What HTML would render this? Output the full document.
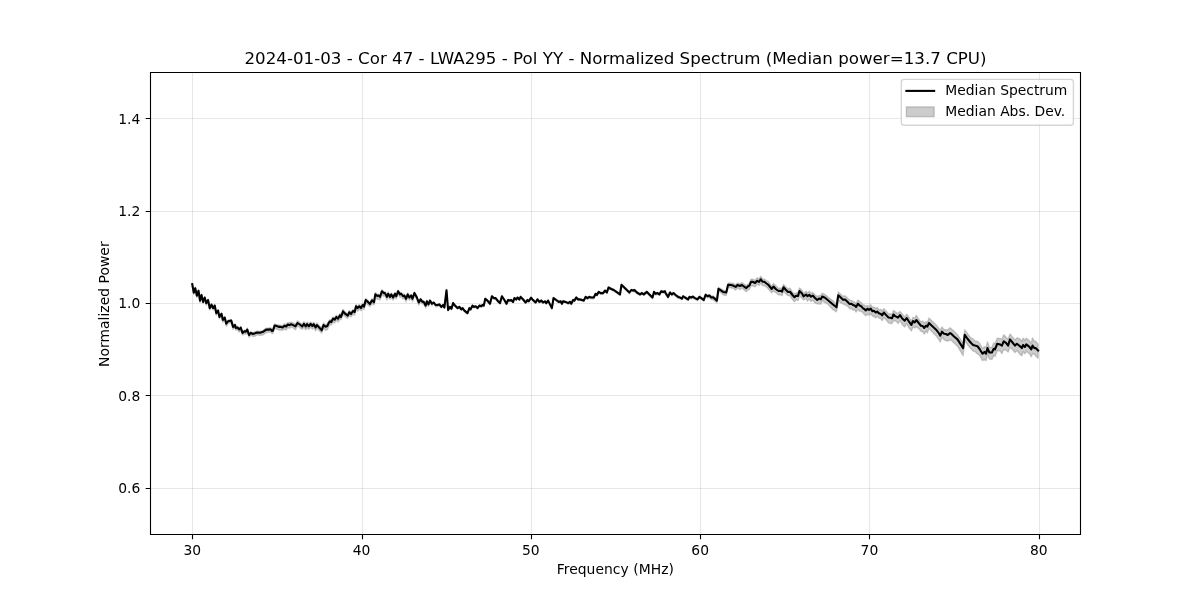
<!DOCTYPE html>
<html><head><meta charset="utf-8"><title>Normalized Spectrum</title>
<style>html,body{margin:0;padding:0;background:#fff;width:1200px;height:600px;overflow:hidden}svg{display:block;will-change:transform}</style>
</head><body>
<svg width="1200" height="600" viewBox="0 0 1200 600">
<rect width="1200" height="600" fill="#fff"/>
<defs><clipPath id="ax"><rect x="150" y="72" width="930" height="462"/></clipPath></defs>
<path clip-path="url(#ax)" d="M192.25 283.32 L193.75 291.67 L195.25 287.09 L196.90 294.65 L198.50 289.79 L200.00 299.68 L201.50 294.06 L203.10 301.00 L204.75 296.46 L206.25 302.25 L208.10 299.05 L209.75 307.10 L211.50 303.62 L213.10 306.96 L214.75 304.40 L216.25 311.82 L218.10 309.54 L219.40 315.70 L221.50 312.53 L222.90 318.91 L224.75 316.50 L226.25 322.40 L228.10 320.13 L231.25 319.46 L233.10 325.54 L235.00 323.74 L235.80 326.67 L237.50 326.15 L239.20 328.32 L240.80 326.35 L242.50 331.67 L244.60 330.11 L245.80 330.33 L247.30 328.11 L249.00 333.79 L250.80 331.51 L252.90 332.73 L255.00 331.83 L257.10 331.03 L260.00 331.42 L263.30 330.14 L266.25 328.09 L269.20 328.06 L270.40 327.59 L272.10 329.55 L272.90 329.20 L274.60 323.93 L276.70 324.61 L279.20 325.03 L280.00 325.12 L282.60 325.56 L284.40 323.97 L286.10 324.36 L287.90 322.53 L289.30 322.69 L291.10 322.15 L293.10 322.87 L295.50 324.19 L297.50 320.76 L299.80 322.54 L302.20 324.57 L303.90 321.61 L305.70 324.02 L307.10 322.04 L308.90 323.93 L310.60 321.99 L312.40 323.69 L313.80 322.33 L315.60 325.04 L317.00 322.96 L319.10 325.28 L321.70 327.97 L323.50 322.89 L325.50 324.60 L327.30 324.26 L328.70 321.07 L330.00 319.55 L331.30 320.19 L333.00 316.89 L334.70 317.53 L336.30 315.27 L338.00 316.88 L340.00 313.38 L341.00 314.89 L343.00 309.14 L345.00 311.70 L347.70 314.00 L349.30 310.43 L351.00 312.05 L353.00 309.43 L354.70 310.10 L356.00 304.58 L357.70 306.17 L359.30 304.44 L361.00 306.16 L362.70 303.25 L364.00 304.94 L365.70 298.44 L367.70 300.00 L370.00 302.51 L372.00 298.65 L374.00 300.63 L375.30 292.53 L377.30 294.43 L378.75 294.22 L380.00 295.29 L381.90 289.81 L383.75 291.42 L385.00 291.60 L386.90 295.42 L388.10 292.04 L390.00 295.45 L391.25 292.98 L393.10 296.10 L395.00 292.31 L396.25 294.99 L398.10 289.81 L400.00 292.82 L401.25 292.34 L403.10 294.78 L404.40 294.06 L406.00 297.27 L407.75 292.98 L409.40 296.07 L411.25 294.19 L412.50 297.57 L414.40 291.85 L416.90 296.33 L418.75 301.37 L420.60 298.19 L422.50 300.81 L423.75 300.73 L425.60 304.49 L426.90 300.31 L428.50 303.39 L430.00 299.63 L431.90 302.73 L433.75 301.69 L435.60 304.20 L437.50 304.15 L439.40 303.61 L441.25 306.09 L443.10 304.30 L444.40 306.85 L446.50 289.41 L448.10 309.35 L450.00 306.27 L451.50 308.09 L453.10 302.43 L455.00 304.95 L457.50 307.39 L459.40 306.10 L461.25 308.77 L462.50 307.41 L464.40 309.86 L467.50 312.31 L469.40 307.28 L470.60 308.77 L472.50 304.88 L473.75 306.11 L475.60 305.63 L477.50 307.37 L479.40 304.96 L481.25 305.48 L482.50 304.19 L483.75 304.88 L485.25 298.14 L487.50 299.98 L490.00 303.05 L491.90 295.46 L493.75 297.44 L495.60 297.34 L498.10 300.55 L500.00 302.43 L501.90 295.48 L504.40 299.32 L506.50 303.05 L508.10 299.22 L510.00 299.88 L511.25 299.21 L513.10 301.17 L514.40 297.45 L516.25 298.68 L517.50 296.69 L519.40 298.66 L520.60 296.07 L522.50 298.13 L525.60 301.80 L527.50 299.21 L528.75 300.48 L531.00 297.00 L532.50 298.63 L535.60 301.68 L537.50 298.62 L539.40 301.15 L541.25 299.85 L543.10 301.72 L545.00 300.55 L546.25 302.32 L548.10 299.83 L551.90 307.29 L553.50 297.36 L556.25 299.36 L558.75 301.15 L560.60 300.42 L561.90 302.97 L563.10 300.47 L565.60 301.18 L568.10 302.38 L570.00 301.10 L571.25 303.10 L573.10 299.17 L574.40 299.76 L576.25 296.64 L578.10 298.73 L580.00 298.73 L581.90 299.16 L583.75 299.87 L585.60 296.20 L587.50 297.37 L589.40 296.11 L591.25 296.82 L593.75 296.74 L595.60 292.95 L596.90 294.19 L598.75 291.25 L600.60 292.27 L603.10 292.35 L605.00 289.85 L606.90 291.72 L608.50 286.79 L611.25 288.15 L613.75 289.30 L620.00 293.62 L621.50 284.06 L623.75 286.10 L629.40 291.63 L631.25 289.14 L633.10 289.91 L634.40 289.20 L636.90 291.63 L640.00 293.69 L641.90 292.34 L643.75 293.57 L646.90 291.07 L649.40 293.63 L652.50 296.69 L654.00 291.08 L655.60 293.00 L657.50 292.28 L659.40 293.60 L661.25 290.42 L663.10 291.11 L665.00 290.50 L665.60 292.33 L668.10 296.01 L670.00 291.79 L671.90 293.69 L673.50 292.43 L675.60 294.13 L678.10 295.99 L680.00 296.77 L681.90 298.01 L683.10 295.53 L685.00 296.68 L688.10 298.61 L689.40 296.03 L691.25 296.77 L692.75 295.71 L695.00 297.31 L697.50 298.53 L699.40 296.03 L701.25 297.15 L703.75 299.05 L705.60 293.69 L707.50 295.13 L709.40 294.53 L711.25 296.25 L713.10 295.76 L716.90 298.94 L718.50 287.43 L721.25 288.88 L723.10 290.29 L726.25 290.91 L728.10 283.11 L730.60 282.91 L733.10 283.33 L735.60 284.82 L737.50 282.95 L740.00 283.79 L741.90 282.52 L746.25 285.54 L748.10 284.13 L749.40 283.33 L751.00 279.09 L753.10 279.31 L755.00 280.22 L757.25 277.81 L759.00 279.12 L760.75 276.25 L762.50 278.89 L764.25 279.14 L766.50 280.90 L768.25 281.44 L771.75 286.51 L773.50 283.40 L776.00 285.95 L778.50 288.26 L781.25 288.15 L782.00 288.82 L783.50 284.37 L785.50 286.48 L788.00 288.99 L790.00 288.24 L792.50 292.23 L794.50 293.69 L796.00 293.02 L798.00 292.40 L799.50 287.97 L802.00 290.06 L803.50 293.55 L806.00 291.29 L807.50 292.80 L809.25 291.33 L811.00 293.14 L812.75 292.52 L815.00 294.75 L817.25 296.51 L819.00 295.59 L820.75 295.50 L822.25 293.17 L825.00 294.57 L828.00 297.08 L833.00 300.84 L836.50 304.20 L838.25 291.98 L841.00 294.40 L843.00 296.44 L845.00 295.66 L847.50 298.04 L849.20 299.54 L850.00 300.16 L851.50 300.34 L852.90 301.45 L854.70 302.25 L856.10 303.61 L857.90 299.95 L859.60 301.55 L861.10 302.62 L863.10 304.85 L864.30 304.93 L865.75 306.24 L867.50 305.41 L869.00 306.62 L870.70 304.63 L872.50 307.51 L873.90 307.03 L875.70 308.53 L877.10 307.47 L879.20 310.05 L880.60 309.31 L882.10 311.00 L883.80 308.72 L886.20 311.24 L888.50 313.85 L890.30 313.72 L892.00 314.71 L893.50 310.51 L894.90 311.56 L896.70 312.92 L898.00 313.32 L900.00 311.38 L902.00 313.80 L904.70 317.08 L906.70 314.23 L909.00 317.26 L911.30 321.05 L913.00 317.25 L914.70 318.56 L916.30 315.33 L918.70 319.29 L921.00 321.90 L922.70 321.00 L924.30 323.19 L926.00 321.41 L927.30 322.62 L929.00 317.98 L931.30 320.34 L934.00 322.85 L936.70 325.60 L938.70 328.27 L940.30 330.30 L942.00 326.91 L944.00 329.51 L946.00 329.79 L947.70 330.00 L950.00 327.86 L951.25 328.64 L953.75 330.92 L957.50 334.68 L963.10 343.16 L964.75 329.95 L967.50 333.73 L970.60 337.60 L973.10 339.15 L975.00 340.82 L977.50 341.33 L979.40 342.97 L982.50 348.43 L984.40 346.64 L986.00 347.41 L987.50 341.87 L989.40 347.36 L991.90 347.43 L993.75 343.08 L995.00 343.56 L997.25 338.26 L1000.00 338.44 L1001.90 339.39 L1003.75 334.70 L1006.25 337.46 L1008.10 339.12 L1010.00 333.94 L1012.50 336.91 L1015.00 339.92 L1016.90 337.87 L1020.00 338.88 L1021.90 341.55 L1023.10 338.18 L1025.00 340.15 L1026.25 338.14 L1029.40 340.95 L1031.25 343.15 L1032.50 337.93 L1034.40 341.49 L1035.60 341.31 L1038.10 344.11 L1038.10 358.35 L1035.60 355.88 L1034.40 354.19 L1032.50 353.63 L1031.25 356.85 L1029.40 353.75 L1026.25 351.37 L1025.00 353.77 L1023.10 351.74 L1021.90 355.69 L1020.00 354.38 L1016.90 350.42 L1015.00 352.54 L1012.50 349.40 L1010.00 347.48 L1008.10 351.92 L1006.25 350.44 L1003.75 349.46 L1001.90 353.61 L1000.00 350.70 L997.25 350.72 L995.00 356.45 L993.75 355.43 L991.90 359.40 L989.40 359.08 L987.50 354.56 L986.00 360.66 L984.40 359.63 L982.50 360.60 L979.40 354.88 L977.50 354.06 L975.00 351.40 L973.10 351.15 L970.60 348.37 L967.50 344.64 L964.75 340.37 L963.10 355.62 L957.50 346.22 L953.75 342.80 L951.25 340.20 L950.00 340.07 L947.70 341.15 L946.00 340.73 L944.00 339.63 L942.00 337.03 L940.30 342.08 L938.70 339.29 L936.70 336.55 L934.00 333.67 L931.30 331.11 L929.00 328.16 L927.30 332.94 L926.00 330.86 L924.30 334.16 L922.70 331.84 L921.00 331.42 L918.70 328.55 L916.30 326.63 L914.70 328.06 L913.00 326.75 L911.30 330.94 L909.00 327.89 L906.70 323.63 L904.70 327.01 L902.00 324.25 L900.00 320.60 L898.00 323.52 L896.70 321.63 L894.90 320.79 L893.50 320.46 L892.00 323.44 L890.30 323.39 L888.50 322.90 L886.20 319.88 L883.80 317.61 L882.10 320.67 L880.60 318.43 L879.20 318.32 L877.10 316.14 L875.70 317.91 L873.90 316.27 L872.50 316.14 L870.70 313.74 L869.00 315.14 L867.50 314.44 L865.75 315.80 L864.30 314.17 L863.10 313.12 L861.10 310.96 L859.60 311.19 L857.90 309.11 L856.10 312.13 L854.70 309.98 L852.90 310.03 L851.50 308.28 L850.00 308.81 L849.20 307.96 L847.50 306.02 L845.00 304.86 L843.00 303.86 L841.00 302.93 L838.25 300.32 L836.50 311.84 L833.00 309.67 L828.00 304.17 L825.00 302.60 L822.25 300.67 L820.75 304.27 L819.00 303.57 L817.25 303.90 L815.00 302.94 L812.75 300.09 L811.00 301.51 L809.25 298.84 L807.50 301.20 L806.00 298.40 L803.50 300.03 L802.00 298.17 L799.50 295.64 L798.00 300.46 L796.00 299.73 L794.50 301.79 L792.50 299.65 L790.00 295.68 L788.00 295.63 L785.50 293.39 L783.50 291.28 L782.00 295.68 L781.25 295.12 L778.50 294.85 L776.00 292.72 L773.50 290.99 L771.75 292.80 L768.25 288.82 L766.50 286.93 L764.25 285.78 L762.50 285.40 L760.75 283.33 L759.00 285.57 L757.25 283.91 L755.00 286.74 L753.10 285.96 L751.00 285.67 L749.40 289.54 L748.10 289.83 L746.25 291.63 L741.90 288.03 L740.00 289.56 L737.50 287.93 L735.60 290.07 L733.10 288.28 L730.60 287.72 L728.10 287.28 L726.25 295.47 L723.10 294.72 L721.25 292.95 L718.50 291.07 L716.90 302.80 L713.10 299.43 L711.25 299.58 L709.40 297.41 L707.50 297.83 L705.60 296.41 L703.75 301.29 L701.25 299.22 L699.40 298.10 L697.50 300.63 L695.00 299.35 L692.75 297.86 L691.25 298.83 L689.40 298.10 L688.10 300.63 L685.00 298.69 L683.10 297.27 L681.90 299.81 L680.00 298.54 L678.10 298.23 L675.60 296.13 L673.50 294.13 L671.90 295.59 L670.00 293.67 L668.10 298.24 L665.60 294.33 L665.00 292.58 L663.10 293.19 L661.25 292.29 L659.40 295.50 L657.50 294.43 L655.60 295.08 L654.00 293.03 L652.50 298.79 L649.40 295.68 L646.90 293.06 L643.75 295.41 L641.90 294.19 L640.00 295.49 L636.90 293.65 L634.40 291.15 L633.10 291.66 L631.25 291.04 L629.40 293.80 L623.75 288.04 L621.50 285.97 L620.00 295.52 L613.75 291.28 L611.25 289.97 L608.50 288.76 L606.90 293.55 L605.00 291.62 L603.10 294.12 L600.60 294.20 L598.75 292.90 L596.90 295.97 L595.60 294.81 L593.75 298.74 L591.25 298.78 L589.40 297.91 L587.50 299.35 L585.60 298.12 L583.75 301.59 L581.90 300.98 L580.00 300.45 L578.10 300.61 L576.25 298.44 L574.40 301.73 L573.10 300.98 L571.25 304.85 L570.00 303.15 L568.10 304.25 L565.60 302.95 L563.10 302.18 L561.90 304.72 L560.60 302.46 L558.75 302.93 L556.25 301.15 L553.50 299.27 L551.90 309.07 L548.10 301.61 L546.25 304.04 L545.00 302.35 L543.10 303.57 L541.25 301.71 L539.40 302.90 L537.50 300.38 L535.60 303.41 L532.50 300.56 L531.00 298.89 L528.75 302.25 L527.50 301.12 L525.60 303.53 L522.50 299.68 L520.60 297.90 L519.40 300.46 L517.50 298.44 L516.25 300.47 L514.40 299.13 L513.10 302.93 L511.25 300.89 L510.00 301.55 L508.10 301.04 L506.50 304.69 L504.40 301.04 L501.90 297.15 L500.00 304.17 L498.10 302.19 L495.60 299.13 L493.75 299.09 L491.90 297.40 L490.00 304.88 L487.50 301.74 L485.25 299.77 L483.75 306.73 L482.50 306.08 L481.25 307.25 L479.40 306.51 L477.50 309.03 L475.60 307.25 L473.75 307.99 L472.50 306.77 L470.60 310.37 L469.40 308.97 L467.50 313.98 L464.40 311.59 L462.50 309.01 L461.25 310.35 L459.40 307.84 L457.50 308.98 L455.00 306.61 L453.10 304.02 L451.50 309.80 L450.00 307.91 L448.10 311.07 L446.50 291.34 L444.40 308.43 L443.10 306.20 L441.25 307.99 L439.40 305.81 L437.50 306.44 L435.60 306.74 L433.75 303.95 L431.90 305.59 L430.00 302.62 L428.50 306.59 L426.90 303.57 L425.60 307.96 L423.75 303.91 L422.50 304.05 L420.60 301.72 L418.75 305.13 L416.90 299.99 L414.40 295.44 L412.50 301.46 L411.25 298.15 L409.40 300.14 L407.75 297.12 L406.00 301.68 L404.40 298.58 L403.10 298.94 L401.25 296.87 L400.00 297.27 L398.10 294.26 L396.25 299.07 L395.00 296.77 L393.10 300.17 L391.25 297.55 L390.00 299.35 L388.10 296.27 L386.90 299.94 L385.00 295.62 L383.75 296.26 L381.90 294.58 L380.00 300.29 L378.75 298.62 L377.30 299.43 L375.30 296.90 L374.00 304.94 L372.00 303.60 L370.00 306.59 L367.70 304.73 L365.70 302.72 L364.00 309.47 L362.70 308.53 L361.00 310.68 L359.30 309.16 L357.70 311.21 L356.00 309.10 L354.70 314.98 L353.00 314.39 L351.00 316.88 L349.30 315.45 L347.70 318.53 L345.00 316.51 L343.00 314.46 L341.00 319.82 L340.00 318.81 L338.00 322.14 L336.30 320.03 L334.70 322.89 L333.00 322.24 L331.30 325.10 L330.00 324.09 L328.70 326.66 L327.30 329.62 L325.50 330.22 L323.50 328.05 L321.70 333.07 L319.10 330.43 L317.00 327.93 L315.60 330.88 L313.80 327.60 L312.40 329.10 L310.60 326.99 L308.90 329.39 L307.10 327.82 L305.70 329.74 L303.90 327.26 L302.20 329.33 L299.80 327.80 L297.50 325.78 L295.50 329.71 L293.10 327.92 L291.10 327.08 L289.30 328.31 L287.90 327.52 L286.10 330.04 L284.40 329.02 L282.60 330.29 L280.00 329.96 L279.20 330.13 L276.70 329.17 L274.60 328.20 L272.90 333.58 L272.10 333.46 L270.40 332.08 L269.20 332.17 L266.25 332.49 L263.30 334.73 L260.00 335.41 L257.10 334.78 L255.00 336.26 L252.90 336.42 L250.80 335.10 L249.00 337.33 L247.30 332.04 L245.80 334.40 L244.60 333.61 L242.50 335.06 L240.80 330.26 L239.20 332.04 L237.50 329.97 L235.80 330.08 L235.00 327.11 L233.10 329.54 L231.25 322.79 L228.10 323.28 L226.25 326.26 L224.75 319.64 L222.90 322.31 L221.50 316.15 L219.40 318.78 L218.10 312.76 L216.25 315.29 L214.75 307.82 L213.10 310.02 L211.50 306.39 L209.75 310.05 L208.10 301.73 L206.25 305.29 L204.75 299.62 L203.10 303.75 L201.50 296.87 L200.00 302.43 L198.50 292.30 L196.90 297.32 L195.25 289.72 L193.75 294.24 L192.25 285.81 Z" fill="#808080" fill-opacity="0.4" stroke="#808080" stroke-opacity="0.4" stroke-width="1.389" stroke-linejoin="round"/>
<path d="M192.5 72V534" fill="none" stroke="#b0b0b0" stroke-opacity="0.3" stroke-width="1.111"/><path d="M362.5 72V534" fill="none" stroke="#b0b0b0" stroke-opacity="0.3" stroke-width="1.111"/><path d="M531.5 72V534" fill="none" stroke="#b0b0b0" stroke-opacity="0.3" stroke-width="1.111"/><path d="M700.5 72V534" fill="none" stroke="#b0b0b0" stroke-opacity="0.3" stroke-width="1.111"/><path d="M869.5 72V534" fill="none" stroke="#b0b0b0" stroke-opacity="0.3" stroke-width="1.111"/><path d="M1039.5 72V534" fill="none" stroke="#b0b0b0" stroke-opacity="0.3" stroke-width="1.111"/><path d="M150 488.5H1080" fill="none" stroke="#b0b0b0" stroke-opacity="0.3" stroke-width="1.111"/><path d="M150 395.5H1080" fill="none" stroke="#b0b0b0" stroke-opacity="0.3" stroke-width="1.111"/><path d="M150 303.5H1080" fill="none" stroke="#b0b0b0" stroke-opacity="0.3" stroke-width="1.111"/><path d="M150 211.5H1080" fill="none" stroke="#b0b0b0" stroke-opacity="0.3" stroke-width="1.111"/><path d="M150 118.5H1080" fill="none" stroke="#b0b0b0" stroke-opacity="0.3" stroke-width="1.111"/>
<path clip-path="url(#ax)" d="M192.25 284.20 L193.75 292.60 L195.25 288.20 L196.90 295.70 L198.50 290.70 L200.00 300.70 L201.50 295.10 L203.10 301.95 L204.75 297.60 L206.25 303.20 L208.10 300.10 L209.75 308.20 L211.50 304.70 L213.10 308.10 L214.75 305.60 L216.25 313.10 L218.10 310.60 L219.40 316.90 L221.50 313.75 L222.90 320.00 L224.75 317.50 L226.25 323.75 L228.10 321.25 L231.25 320.60 L233.10 326.90 L235.00 325.00 L235.80 327.90 L237.50 327.50 L239.20 329.40 L240.80 327.70 L242.50 332.90 L244.60 331.25 L245.80 331.70 L247.30 329.60 L249.00 335.00 L250.80 332.90 L252.90 334.00 L255.00 333.30 L257.10 332.50 L260.00 332.70 L263.30 331.70 L266.25 329.60 L269.20 329.60 L270.40 329.20 L272.10 331.00 L272.90 330.80 L274.60 325.60 L276.70 326.00 L279.20 326.90 L280.00 326.80 L282.60 327.40 L284.40 325.70 L286.10 326.50 L287.90 324.50 L289.30 325.10 L291.10 324.20 L293.10 325.10 L295.50 326.30 L297.50 323.00 L299.80 324.50 L302.20 326.50 L303.90 323.90 L305.70 326.30 L307.10 324.20 L308.90 326.30 L310.60 323.90 L312.40 326.00 L313.80 324.20 L315.60 327.40 L317.00 325.10 L319.10 327.40 L321.70 330.30 L323.50 325.10 L325.50 326.80 L327.30 326.00 L328.70 323.00 L330.00 321.30 L331.30 322.00 L333.00 318.70 L334.70 319.70 L336.30 317.00 L338.00 318.70 L340.00 315.30 L341.00 317.00 L343.00 311.30 L345.00 313.70 L347.70 315.70 L349.30 312.30 L351.00 314.00 L353.00 311.00 L354.70 312.00 L356.00 306.30 L357.70 308.00 L359.30 306.30 L361.00 308.00 L362.70 305.00 L364.00 306.70 L365.70 300.00 L367.70 301.70 L370.00 304.00 L372.00 300.30 L374.00 302.30 L375.30 294.30 L377.30 296.00 L378.75 295.60 L380.00 296.90 L381.90 291.25 L383.75 293.10 L385.00 293.10 L386.90 296.90 L388.10 293.75 L390.00 296.90 L391.25 294.40 L393.10 297.50 L395.00 293.75 L396.25 296.25 L398.10 291.25 L400.00 294.40 L401.25 293.75 L403.10 296.25 L404.40 295.60 L406.00 298.75 L407.75 294.40 L409.40 297.50 L411.25 295.60 L412.50 298.75 L414.40 293.10 L416.90 297.50 L418.75 302.50 L420.60 299.40 L422.50 301.90 L423.75 301.90 L425.60 305.60 L426.90 301.25 L428.50 304.40 L430.00 300.60 L431.90 303.75 L433.75 302.50 L435.60 305.00 L437.50 305.00 L439.40 304.40 L441.25 306.90 L443.10 305.00 L444.40 307.50 L446.50 290.20 L448.10 310.00 L450.00 306.90 L451.50 308.75 L453.10 303.10 L455.00 305.60 L457.50 308.10 L459.40 306.90 L461.25 309.40 L462.50 308.10 L464.40 310.60 L467.50 313.10 L469.40 308.10 L470.60 309.40 L472.50 305.60 L473.75 306.90 L475.60 306.25 L477.50 308.10 L479.40 305.60 L481.25 306.25 L482.50 305.00 L483.75 305.60 L485.25 298.75 L487.50 300.60 L490.00 303.75 L491.90 296.25 L493.75 298.10 L495.60 298.10 L498.10 301.25 L500.00 303.10 L501.90 296.25 L504.40 300.00 L506.50 303.75 L508.10 300.00 L510.00 300.60 L511.25 300.00 L513.10 301.90 L514.40 298.10 L516.25 299.40 L517.50 297.50 L519.40 299.40 L520.60 296.90 L522.50 298.75 L525.60 302.50 L527.50 300.00 L528.75 301.25 L531.00 297.75 L532.50 299.40 L535.60 302.50 L537.50 299.40 L539.40 301.90 L541.25 300.60 L543.10 302.50 L545.00 301.25 L546.25 303.10 L548.10 300.60 L551.90 308.10 L553.50 298.10 L556.25 300.00 L558.75 301.90 L560.60 301.25 L561.90 303.75 L563.10 301.25 L565.60 301.90 L568.10 303.10 L570.00 301.90 L571.25 303.75 L573.10 300.00 L574.40 300.60 L576.25 297.50 L578.10 299.40 L580.00 299.40 L581.90 300.00 L583.75 300.60 L585.60 296.90 L587.50 298.10 L589.40 296.90 L591.25 297.50 L593.75 297.50 L595.60 293.75 L596.90 295.00 L598.75 291.90 L600.60 293.10 L603.10 293.10 L605.00 290.60 L606.90 292.50 L608.50 287.50 L611.25 289.00 L613.75 290.00 L620.00 294.40 L621.50 284.75 L623.75 286.90 L629.40 292.50 L631.25 290.00 L633.10 290.60 L634.40 290.00 L636.90 292.50 L640.00 294.40 L641.90 293.10 L643.75 294.40 L646.90 291.90 L649.40 294.40 L652.50 297.50 L654.00 291.90 L655.60 293.75 L657.50 293.10 L659.40 294.40 L661.25 291.25 L663.10 291.90 L665.00 291.25 L665.60 293.10 L668.10 296.90 L670.00 292.50 L671.90 294.40 L673.50 293.10 L675.60 295.00 L678.10 296.90 L680.00 297.50 L681.90 298.75 L683.10 296.25 L685.00 297.50 L688.10 299.40 L689.40 296.90 L691.25 297.50 L692.75 296.60 L695.00 298.10 L697.50 299.40 L699.40 296.90 L701.25 298.10 L703.75 300.00 L705.60 294.75 L707.50 296.25 L709.40 295.60 L711.25 297.50 L713.10 297.25 L716.90 300.60 L718.50 288.75 L721.25 290.60 L723.10 291.90 L726.25 292.50 L728.10 284.75 L730.60 285.00 L733.10 285.60 L735.60 286.90 L737.50 285.00 L740.00 286.00 L741.90 285.00 L746.25 288.10 L748.10 286.25 L749.40 285.60 L751.00 281.90 L753.10 281.90 L755.00 283.00 L757.25 280.75 L759.00 282.00 L760.75 279.25 L762.50 281.75 L764.25 281.75 L766.50 283.50 L768.25 284.75 L771.75 289.00 L773.50 286.50 L776.00 289.25 L778.50 291.00 L781.25 290.75 L782.00 291.75 L783.50 287.25 L785.50 289.50 L788.00 292.00 L790.00 291.75 L792.50 295.00 L794.50 297.25 L796.00 295.75 L798.00 296.00 L799.50 291.00 L802.00 293.50 L803.50 296.30 L806.00 294.50 L807.50 296.25 L809.25 294.75 L811.00 296.75 L812.75 295.50 L815.00 298.00 L817.25 300.00 L819.00 298.50 L820.75 299.25 L822.25 296.50 L825.00 297.75 L828.00 300.25 L833.00 304.50 L836.50 307.25 L838.25 295.25 L841.00 297.75 L843.00 299.75 L845.00 299.50 L847.50 301.75 L849.20 303.60 L850.00 304.00 L851.50 303.75 L852.90 304.90 L854.70 305.50 L856.10 307.00 L857.90 303.75 L859.60 305.50 L861.10 306.10 L863.10 308.40 L864.30 309.00 L865.75 310.50 L867.50 308.70 L869.00 309.90 L870.70 308.70 L872.50 311.30 L873.90 310.75 L875.70 312.50 L877.10 311.60 L879.20 313.40 L880.60 313.70 L882.10 315.40 L883.80 312.50 L886.20 315.10 L888.50 317.50 L890.30 317.75 L892.00 318.30 L893.50 314.50 L894.90 316.00 L896.70 316.90 L898.00 317.70 L900.00 315.00 L902.00 318.30 L904.70 320.70 L906.70 318.00 L909.00 321.70 L911.30 325.00 L913.00 321.00 L914.70 322.30 L916.30 320.00 L918.70 323.00 L921.00 325.70 L922.70 326.00 L924.30 328.00 L926.00 325.70 L927.30 326.70 L929.00 323.00 L931.30 325.30 L934.00 327.70 L936.70 330.30 L938.70 333.00 L940.30 335.70 L942.00 331.70 L944.00 333.70 L946.00 334.00 L947.70 335.00 L950.00 333.10 L951.25 333.75 L953.75 336.25 L957.50 339.40 L963.10 348.10 L964.75 334.75 L967.50 338.75 L970.60 342.50 L973.10 345.00 L975.00 345.60 L977.50 346.25 L979.40 348.75 L982.50 353.75 L984.40 351.90 L986.00 353.75 L987.50 348.10 L989.40 352.50 L991.90 352.50 L993.75 348.75 L995.00 349.40 L997.25 343.75 L1000.00 344.40 L1001.90 345.60 L1003.75 341.25 L1006.25 343.10 L1008.10 345.60 L1010.00 339.40 L1012.50 342.50 L1015.00 345.60 L1016.90 343.75 L1020.00 346.25 L1021.90 348.10 L1023.10 345.00 L1025.00 346.90 L1026.25 344.40 L1029.40 346.90 L1031.25 349.40 L1032.50 345.60 L1034.40 348.10 L1035.60 348.10 L1038.10 350.60" fill="none" stroke="#000" stroke-width="2.083" stroke-linejoin="round" stroke-linecap="square"/>
<path d="M150.5 72.5V534.5 M1080.5 72.5V534.5 M150.5 534.5H1080.5 M150.5 72.5H1080.5" fill="none" stroke="#000" stroke-width="1.111" stroke-linecap="square"/>
<path d="M192.5 534.5v4.861 M362.5 534.5v4.861 M531.5 534.5v4.861 M700.5 534.5v4.861 M869.5 534.5v4.861 M1039.5 534.5v4.861 M150.5 488.5h-4.861 M150.5 395.5h-4.861 M150.5 303.5h-4.861 M150.5 211.5h-4.861 M150.5 118.5h-4.861" fill="none" stroke="#000" stroke-width="1.111"/>
<text x="192.25" y="555.28" style="font-size:13.889px;font-family:'DejaVu Sans','Liberation Sans',sans-serif" text-anchor="middle">30</text>
<text x="361.55" y="555.28" style="font-size:13.889px;font-family:'DejaVu Sans','Liberation Sans',sans-serif" text-anchor="middle">40</text>
<text x="530.85" y="555.28" style="font-size:13.889px;font-family:'DejaVu Sans','Liberation Sans',sans-serif" text-anchor="middle">50</text>
<text x="700.15" y="555.28" style="font-size:13.889px;font-family:'DejaVu Sans','Liberation Sans',sans-serif" text-anchor="middle">60</text>
<text x="869.45" y="555.28" style="font-size:13.889px;font-family:'DejaVu Sans','Liberation Sans',sans-serif" text-anchor="middle">70</text>
<text x="1038.75" y="555.28" style="font-size:13.889px;font-family:'DejaVu Sans','Liberation Sans',sans-serif" text-anchor="middle">80</text>
<text x="140.28" y="493.08" style="font-size:13.889px;font-family:'DejaVu Sans','Liberation Sans',sans-serif" text-anchor="end">0.6</text>
<text x="140.28" y="400.68" style="font-size:13.889px;font-family:'DejaVu Sans','Liberation Sans',sans-serif" text-anchor="end">0.8</text>
<text x="140.28" y="308.28" style="font-size:13.889px;font-family:'DejaVu Sans','Liberation Sans',sans-serif" text-anchor="end">1.0</text>
<text x="140.28" y="215.88" style="font-size:13.889px;font-family:'DejaVu Sans','Liberation Sans',sans-serif" text-anchor="end">1.2</text>
<text x="140.28" y="124.38" style="font-size:13.889px;font-family:'DejaVu Sans','Liberation Sans',sans-serif" text-anchor="end">1.4</text>
<text x="615.3" y="574.17" textLength="117.2" lengthAdjust="spacing" style="font-size:13.889px;font-family:'DejaVu Sans','Liberation Sans',sans-serif" text-anchor="middle">Frequency (MHz)</text>
<text transform="translate(108.95 304.2) rotate(-90)" x="0" y="0" textLength="125.6" lengthAdjust="spacing" style="font-size:13.889px;font-family:'DejaVu Sans','Liberation Sans',sans-serif" text-anchor="middle">Normalized Power</text>
<text x="615.5" y="63.67" textLength="742.1" lengthAdjust="spacing" style="font-size:16.667px;font-family:'DejaVu Sans','Liberation Sans',sans-serif" text-anchor="middle">2024-01-03 - Cor 47 - LWA295 - Pol YY - Normalized Spectrum (Median power=13.7 CPU)</text>
<path d="M904.08 125.30 L1070.62 125.30 Q1073.40 125.30 1073.40 122.52 L1073.40 82.18 Q1073.40 79.40 1070.62 79.40 L904.08 79.40 Q901.30 79.40 901.30 82.18 L901.30 122.52 Q901.30 125.30 904.08 125.30 Z" fill="#fff" stroke="#ccc" stroke-width="1.389" opacity="0.8"/>
<path d="M906.38 90.9H934.15" stroke="#000" stroke-width="2.083" stroke-linecap="square"/>
<text x="945.26" y="95.05" style="font-size:13.889px;font-family:'DejaVu Sans','Liberation Sans',sans-serif">Median Spectrum</text>
<rect x="906.38" y="106.92" width="27.78" height="9.72" fill="#808080" fill-opacity="0.4" stroke="#808080" stroke-opacity="0.4" stroke-width="1.389"/>
<text x="945.26" y="115.74" style="font-size:13.889px;font-family:'DejaVu Sans','Liberation Sans',sans-serif">Median Abs. Dev.</text>
</svg>
</body></html>
